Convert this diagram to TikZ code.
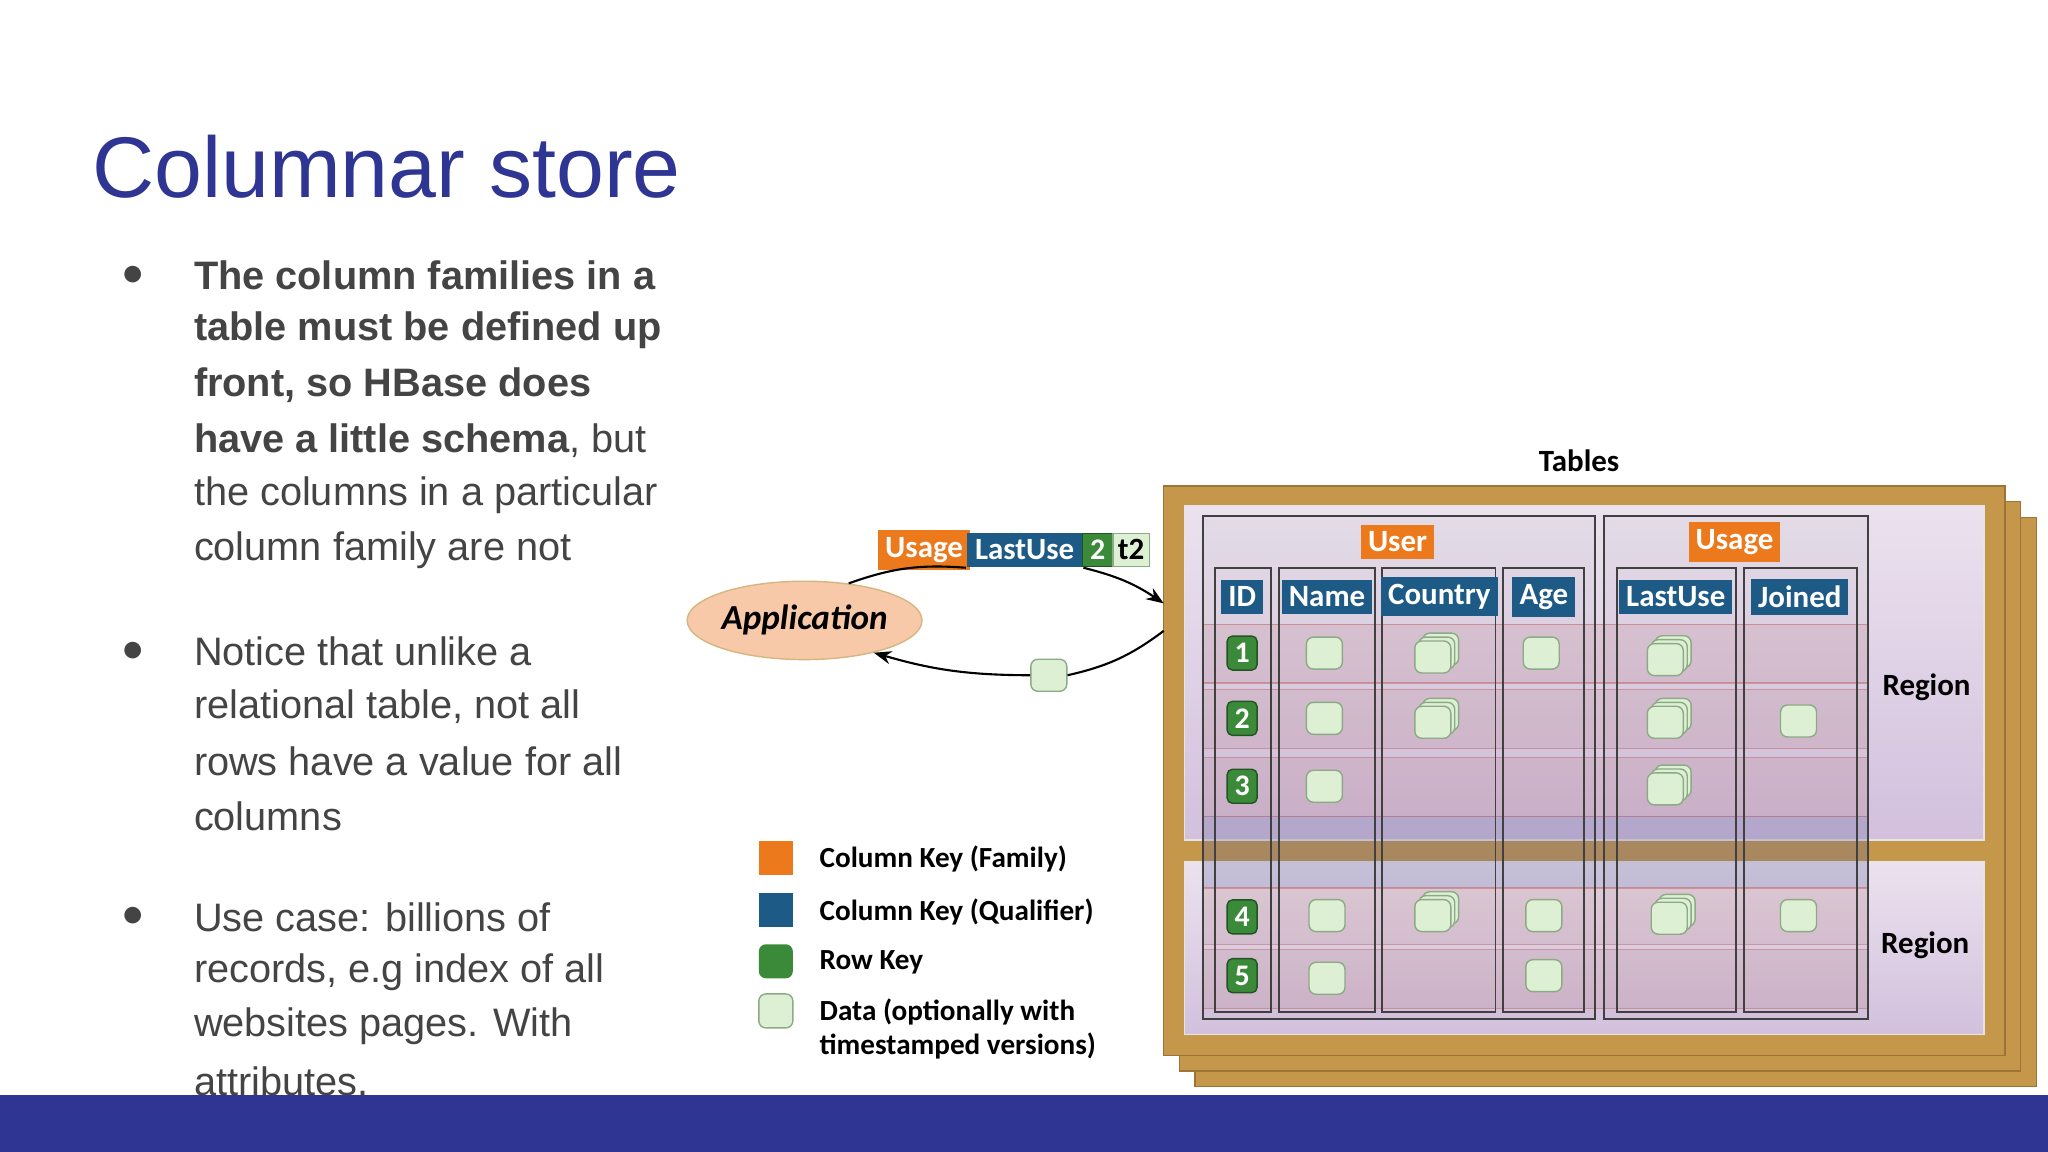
\documentclass[tikz,border=0pt]{standalone}
\usepackage{fontspec}
\setmainfont{Liberation Sans}
\newfontfamily\dg{Carlito}
\usetikzlibrary{shapes.geometric,arrows.meta}
\definecolor{ttl}{HTML}{2E3592}
\definecolor{txt}{HTML}{444444}
\definecolor{brn}{HTML}{C4974A}
\definecolor{brnd}{HTML}{9C7536}
\definecolor{lav}{HTML}{EBE2EE}
\definecolor{lavd}{HTML}{D2C0DD}
\definecolor{org}{HTML}{EC7A1C}
\definecolor{qbl}{HTML}{1E5A86}
\definecolor{rkg}{HTML}{3B8A3A}
\definecolor{dat}{HTML}{DDF0D3}
\definecolor{datd}{HTML}{8DAA86}
\definecolor{peach}{HTML}{F8C9A8}
\tikzset{
 bl/.style={anchor=west,text=txt,font=\fontsize{11.3}{14}\selectfont,inner sep=0pt},
 fam/.style={fill=org,text=white,font=\dg\bfseries\fontsize{8.8}{10}\selectfont,inner sep=2pt,minimum height=0.33cm},
 qual/.style={fill=qbl,text=white,font=\dg\bfseries\fontsize{8.8}{10}\selectfont,inner sep=2pt,minimum height=0.33cm},
 rk/.style={fill=rkg,draw=rkg!60!black,rounded corners=1.5pt,text=white,font=\dg\bfseries\fontsize{8.5}{10}\selectfont,minimum width=0.3cm,minimum height=0.34cm,inner sep=0pt},
 dcell/.style={fill=dat,draw=datd,rounded corners=2pt,minimum width=0.36cm,minimum height=0.32cm,inner sep=0pt},
 colbox/.style={draw=black!75,line width=0.5pt},
 lg/.style={anchor=west,font=\dg\bfseries\fontsize{8.3}{9.8}\selectfont,align=left,inner sep=0pt},
 ar/.style={-{Stealth[length=5pt]},line width=0.6pt},
}
\newcommand{\stk}[3]{%
 \node[dcell] (#3c) at (#1+6,#2-6) {};
 \node[dcell] (#3b) at (#1+3,#2-3) {};
 \node[dcell] (#3) at (#1,#2) {};}
\begin{document}
\begin{tikzpicture}[x=0.01306cm,y=-0.01306cm]
\useasboundingbox (0,0) rectangle (1568,882);
\fill[white] (0,0) rectangle (1568,882);
% title
\node[anchor=base west,text=ttl,font=\fontsize{24.5}{28}\selectfont,inner sep=0pt] (title) at (70,151) {Columnar store};
% bullets
\foreach \y in {211,499,702}{\node[text=txt,font=\fontsize{11}{13}\selectfont] at (102,\y) {●};}
\node[bl] (l1) at (148,211) {\textbf{The column families in a}};
\node[bl] (l2) at (148,253) {\textbf{table must be defined up}};
\node[bl] (l3) at (148,295) {\textbf{front, so HBase does}};
\node[bl] (l4) at (148,337) {\textbf{have a little schema}, but};
\node[bl] (l5) at (148,379) {the columns in a particular};
\node[bl] (l6) at (148,421) {column family are not};
\node[bl] (m1) at (148,499) {Notice that unlike a};
\node[bl] (m2) at (148,541) {relational table, not all};
\node[bl] (m3) at (148,583) {rows have a value for all};
\node[bl] (m4) at (148,625) {columns};
\node[bl] (n1) at (148,702) {Use case: billions of};
\node[bl] (n2) at (148,744) {records, e.g index of all};
\node[bl] (n3) at (148,786) {websites pages. With};
\node[bl] (n4) at (148,828) {attributes.};
% tables
\node[font=\dg\bfseries\fontsize{8.8}{10}\selectfont] (tables) at (1209,353) {Tables};
\foreach \o in {24,12,0}{
 \draw[fill=brn,draw=brnd] (891+\o,372+\o) rectangle (1535+\o,808+\o);}
\shade[top color=lav,bottom color=lavd,draw=white!80!gray] (907,387) rectangle (1519,643);
\shade[top color=lav,bottom color=lavd,draw=white!80!gray] (907,660) rectangle (1519,792);
\fill[blue!30!gray,opacity=0.22] (921,625) rectangle (1430,680);
% row bands
\foreach \a/\b in {478/523,528/573,580/625,680/723,727/772}{
 \fill[red!40!gray,opacity=0.12] (921,\a) rectangle (1430,\b);
 \draw[red!50!gray,opacity=0.4] (921,\a) rectangle (1430,\b);}
% families
\draw[colbox,fill=gray,fill opacity=0.06] (921,395) rectangle (1221,780);
\draw[colbox,fill=gray,fill opacity=0.06] (1228,395) rectangle (1430,780);
\node[fam] (fuser) at (1070,415) {User};
\node[fam] (fusage) at (1328,415) {Usage};
% columns
\foreach \a/\b in {930/973,979/1053,1058/1145,1151/1213,1238/1329,1335/1422}{
 \draw[colbox] (\a,435) rectangle (\b,775);}
\node[qual] (hid) at (951,457) {ID};
\node[qual] (hname) at (1016,457) {Name};
\node[qual] (hcountry) at (1102,457) {Country};
\node[qual] (hage) at (1182,457) {Age};
\node[qual] (hlast) at (1283,457) {LastUse};
\node[qual] (hjoin) at (1378,457) {Joined};
% row keys
\foreach \n/\y in {1/500,2/550,3/602,4/702,5/747}{\node[rk] (rk\n) at (951,\y) {\n};}
% data
\node[dcell] (d1n) at (1014,500) {}; \stk{1097}{503}{d1c} \node[dcell] (d1a) at (1180,500) {}; \stk{1275}{505}{d1l}
\node[dcell] (d2n) at (1014,550) {}; \stk{1097}{553}{d2c} \stk{1275}{553}{d2l} \node[dcell] (d2j) at (1377,552) {};
\node[dcell] (d3n) at (1014,602) {}; \stk{1275}{604}{d3l}
\node[dcell] (d4n) at (1016,701) {}; \stk{1097}{701}{d4c} \node[dcell] (d4a) at (1182,701) {}; \stk{1278}{703}{d4l} \node[dcell] (d4j) at (1377,701) {};
\node[dcell] (d5n) at (1016,749) {}; \node[dcell] (d5a) at (1182,747) {};
\node[font=\dg\bfseries\fontsize{8.8}{10}\selectfont] (reg1) at (1475,526) {Region};
\node[font=\dg\bfseries\fontsize{8.8}{10}\selectfont] (reg2) at (1474,724) {Region};
% application
\node[ellipse,draw=brn!70,fill=peach,inner sep=0pt,minimum width=172*0.01306cm,minimum height=60*0.01306cm,font=\dg\bfseries\itshape\fontsize{10}{12}\selectfont] (app) at (616,475) {Application};
\node[fam,minimum width=65*0.01306cm] (kf) at (707.5,421) {Usage};
\node[qual,minimum width=89*0.01306cm] (kq) at (784.5,421) {LastUse};
\node[rk,rounded corners=0pt,minimum width=23*0.01306cm,minimum height=0.33cm] (kr) at (840.5,421) {2};
\node[fill=dat,draw=datd,minimum width=28*0.01306cm,minimum height=0.33cm,inner sep=0pt,font=\dg\bfseries\fontsize{8.8}{10}\selectfont] (kt) at (866,421) {t2};
\coordinate (tin) at (891,462);
\coordinate (tout) at (891,483);
\node[dcell] (ret) at (803,517) {};
\draw[line width=0.6pt] (app.40) to[bend left=12] (kq.south west);
\draw[ar] (kq.south east) to[bend left=10] (tin);
\draw[line width=0.6pt] (tout) to[bend left=12] (ret.east);
\draw[ar] (ret.west) to[bend left=8] (app.-25);
% legend
\node[fill=org,minimum size=0.34cm,inner sep=0pt] (lk1) at (594,657) {};
\node[fill=qbl,minimum size=0.34cm,inner sep=0pt] (lk2) at (594,697) {};
\node[fill=rkg,rounded corners=2pt,minimum size=0.34cm,inner sep=0pt] (lk3) at (594,736) {};
\node[dcell,minimum size=0.34cm] (lk4) at (594,774) {};
\node[lg] (lt1) at (627,658) {Column Key (Family)};
\node[lg] (lt2) at (627,698) {Column Key (Qualifier)};
\node[lg] (lt3) at (627,737) {Row Key};
\node[lg] (lt4) at (627,788) {Data (optionally with\\timestamped versions)};
% bottom bar
\fill[ttl] (0,838) rectangle (1568,882);
\end{tikzpicture}
\end{document}
